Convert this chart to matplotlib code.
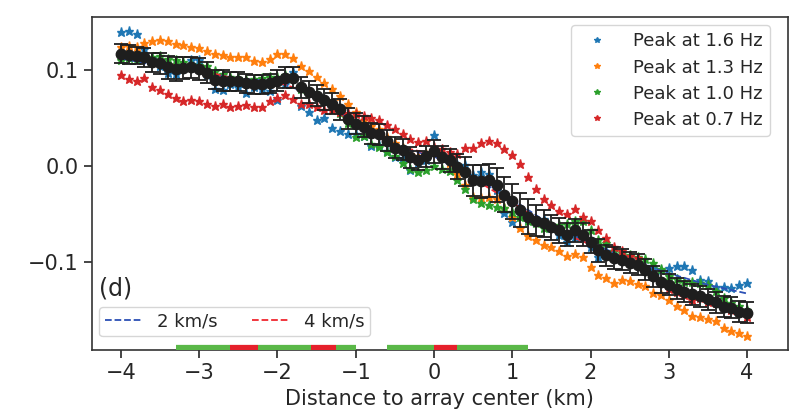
import numpy as np
import matplotlib
matplotlib.use("Agg")
import matplotlib.pyplot as plt

# distance along profile (km), 0.1 km spacing
dist = np.round(np.arange(-40, 41) / 10.0, 1)

peak_16 = [0.140, 0.141, 0.137, 0.122, 0.112, 0.104, 0.097, 0.096, 0.104, 0.110,
           0.110, 0.095, 0.080, 0.079, 0.085, 0.082, 0.076, 0.082, 0.080, 0.078,
           0.069, 0.085, 0.098, 0.062, 0.056, 0.048, 0.050, 0.039, 0.036, 0.033,
           0.033, 0.031, 0.021, 0.022, 0.016, 0.009, 0.008, -0.004, 0.003, 0.006,
           0.032, 0.010, 0.004, 0.001, 0.001, -0.010, -0.006, -0.008, -0.025, -0.049,
           -0.059, -0.050, -0.055, -0.058, -0.055, -0.065, -0.072, -0.079, -0.074, -0.075,
           -0.085, -0.095, -0.089, -0.093, -0.094, -0.097, -0.100, -0.104, -0.106, -0.108,
           -0.106, -0.104, -0.104, -0.109, -0.119, -0.120, -0.126, -0.126, -0.127, -0.124,
           -0.122]

peak_13 = [0.124, 0.125, 0.124, 0.128, 0.130, 0.131, 0.130, 0.127, 0.126, 0.124,
           0.123, 0.120, 0.117, 0.116, 0.113, 0.113, 0.114, 0.109, 0.108, 0.111,
           0.117, 0.117, 0.112, 0.104, 0.099, 0.093, 0.086, 0.080, 0.073, 0.065,
           0.056, 0.048, 0.042, 0.038, 0.030, 0.024, 0.019, 0.012, 0.010, 0.012,
           0.014, 0.008, 0.003, -0.008, -0.020, -0.032, -0.033, -0.032, -0.034, -0.044,
           -0.053, -0.065, -0.073, -0.077, -0.082, -0.085, -0.089, -0.094, -0.092, -0.095,
           -0.105, -0.114, -0.117, -0.122, -0.119, -0.120, -0.123, -0.125, -0.132, -0.135,
           -0.140, -0.146, -0.150, -0.156, -0.157, -0.160, -0.162, -0.169, -0.172, -0.174,
           -0.177]

peak_10 = [0.110, 0.112, 0.110, 0.113, 0.114, 0.115, 0.111, 0.110, 0.108, 0.106,
           0.105, 0.104, 0.099, 0.096, 0.093, 0.092, 0.090, 0.091, 0.092, 0.093,
           0.093, 0.095, 0.092, 0.080, 0.076, 0.074, 0.068, 0.064, 0.055, 0.045,
           0.030, 0.031, 0.023, 0.020, 0.014, 0.010, 0.003, -0.003, -0.006, -0.004,
           0.000, -0.003, -0.005, -0.015, -0.024, -0.035, -0.039, -0.041, -0.043, -0.044,
           -0.048, -0.053, -0.057, -0.060, -0.065, -0.063, -0.062, -0.061, -0.057, -0.057,
           -0.067, -0.077, -0.080, -0.089, -0.091, -0.093, -0.095, -0.097, -0.101, -0.107,
           -0.115, -0.118, -0.121, -0.121, -0.122, -0.124, -0.130, -0.138, -0.143, -0.146,
           -0.150]

peak_07 = [0.095, 0.091, 0.088, 0.092, 0.082, 0.079, 0.075, 0.071, 0.068, 0.069,
           0.068, 0.065, 0.062, 0.064, 0.061, 0.062, 0.063, 0.061, 0.061, 0.068,
           0.071, 0.074, 0.070, 0.065, 0.065, 0.061, 0.058, 0.058, 0.056, 0.055,
           0.054, 0.052, 0.050, 0.048, 0.043, 0.038, 0.033, 0.028, 0.025, 0.026,
           0.020, 0.018, 0.014, 0.012, 0.019, 0.019, 0.024, 0.026, 0.024, 0.018,
           0.011, 0.002, -0.012, -0.024, -0.035, -0.041, -0.047, -0.050, -0.045, -0.053,
           -0.057, -0.067, -0.075, -0.085, -0.089, -0.094, -0.096, -0.106, -0.113, -0.122,
           -0.128, -0.131, -0.135, -0.140, -0.138, -0.142, -0.143, -0.146, -0.150, -0.152,
           -0.157]

mean_val = [0.117, 0.116, 0.115, 0.113, 0.108, 0.107, 0.103, 0.101, 0.102, 0.103,
            0.101, 0.097, 0.090, 0.089, 0.088, 0.088, 0.086, 0.085, 0.085, 0.086,
            0.089, 0.092, 0.092, 0.082, 0.077, 0.073, 0.069, 0.065, 0.059, 0.049,
            0.044, 0.041, 0.034, 0.033, 0.026, 0.019, 0.017, 0.009, 0.006, 0.010,
            0.015, 0.009, 0.006, -0.001, -0.006, -0.015, -0.016, -0.015, -0.020, -0.030,
            -0.037, -0.046, -0.053, -0.057, -0.060, -0.064, -0.067, -0.072, -0.067, -0.072,
            -0.079, -0.088, -0.093, -0.096, -0.098, -0.101, -0.103, -0.108, -0.115, -0.121,
            -0.124, -0.128, -0.131, -0.134, -0.136, -0.139, -0.142, -0.147, -0.148, -0.152,
            -0.153]

mean_err = [0.010, 0.010, 0.009, 0.010, 0.010, 0.011, 0.012, 0.012, 0.011, 0.011,
            0.011, 0.011, 0.010, 0.011, 0.010, 0.010, 0.010, 0.010, 0.010, 0.010,
            0.011, 0.011, 0.011, 0.011, 0.011, 0.011, 0.011, 0.011, 0.011, 0.011,
            0.011, 0.011, 0.011, 0.011, 0.011, 0.011, 0.011, 0.011, 0.010, 0.011,
            0.012, 0.012, 0.012, 0.013, 0.015, 0.016, 0.017, 0.017, 0.018, 0.018,
            0.018, 0.018, 0.018, 0.016, 0.014, 0.013, 0.013, 0.012, 0.012, 0.012,
            0.012, 0.012, 0.011, 0.011, 0.011, 0.011, 0.011, 0.011, 0.011, 0.011,
            0.011, 0.011, 0.011, 0.011, 0.011, 0.011, 0.011, 0.011, 0.011, 0.011,
            0.011]

# model curves
model_x = [-4.0, -3.5, -3.0, -2.5, -2.0, -1.5, -1.0, -0.5, 0.0, 0.5, 1.0, 1.5, 2.0, 2.5, 3.0, 3.5, 4.0]
model_2kms = [0.112, 0.104, 0.098, 0.091, 0.088, 0.072, 0.045, 0.020, 0.010, -0.012,
              -0.035, -0.062, -0.080, -0.098, -0.112, -0.124, -0.133]
model_4kms = [0.118, 0.108, 0.100, 0.090, 0.087, 0.074, 0.046, 0.021, 0.012, -0.013,
              -0.038, -0.065, -0.082, -0.102, -0.125, -0.140, -0.152]

# segments along the bottom axis
green_start = [-3.3, -2.25, -1.25, -0.6, 0.3]
green_end = [-2.6, -1.57, -1.0, 0.0, 1.2]
red_start = [-2.6, -1.57, 0.0]
red_end = [-2.25, -1.25, 0.3]

txt = "#262626"
fig = plt.figure(figsize=(7.99, 4.09), dpi=100)
ax = fig.add_axes([0.115, 0.144, 0.871, 0.814])

ax.plot(dist, peak_16, "*", color="#1f77b4", ms=6.5, label="Peak at 1.6 Hz", zorder=2)
ax.plot(dist, peak_13, "*", color="#ff7f0e", ms=6.5, label="Peak at 1.3 Hz", zorder=2)
ax.plot(dist, peak_10, "*", color="#2ca02c", ms=6.5, label="Peak at 1.0 Hz", zorder=2)
ax.plot(dist, peak_07, "*", color="#d62728", ms=6.5, label="Peak at 0.7 Hz", zorder=2)
leg1 = ax.legend(loc="upper right", fontsize=13, markerscale=0.65,
                 labelcolor=txt, handletextpad=1.0, borderaxespad=0.0,
                 bbox_to_anchor=(0.974, 0.976), labelspacing=0.45)

l2, = ax.plot(model_x, model_2kms, "--", color="#2b4fb5", lw=1.3, zorder=3)
l4, = ax.plot(model_x, model_4kms, "--", color="#f0262f", lw=1.3, zorder=3)

ax.errorbar(dist, mean_val, yerr=mean_err, fmt="o", color="#1e1e1e", ms=7.5,
            ecolor="#1e1e1e", elinewidth=1.3, capsize=5, capthick=1.3, zorder=4)

ax.add_artist(leg1)
ax.legend([l2, l4], ["2 km/s", "4 km/s"], loc="lower left", ncol=2, fontsize=13,
          labelcolor=txt, handlelength=2.0, columnspacing=1.9, handletextpad=0.9,
          bbox_to_anchor=(0.0, 0.02), borderaxespad=0.4, borderpad=0.3)

ybar = -0.1895
ax.hlines([ybar] * len(green_start), green_start, green_end, colors="#5ab848", lw=4.5, zorder=5)
ax.hlines([ybar] * len(red_start), red_start, red_end, colors="#e5202b", lw=4.5, zorder=5)

ax.text(0.010, 0.165, "(d)", transform=ax.transAxes, fontsize=17, color=txt)

ax.set_xlim(-4.37, 4.52)
ax.set_ylim(-0.192, 0.155)
ax.set_xticks([-4, -3, -2, -1, 0, 1, 2, 3, 4])
ax.set_yticks([-0.1, 0.0, 0.1])
ax.tick_params(labelsize=15, colors=txt, length=6, width=1.2)
ax.set_xlabel("Distance to array center (km)", fontsize=15, color=txt)
for s in ax.spines.values():
    s.set_color("#333333")
    s.set_linewidth(1.2)

fig.savefig("out.png", dpi=100)
